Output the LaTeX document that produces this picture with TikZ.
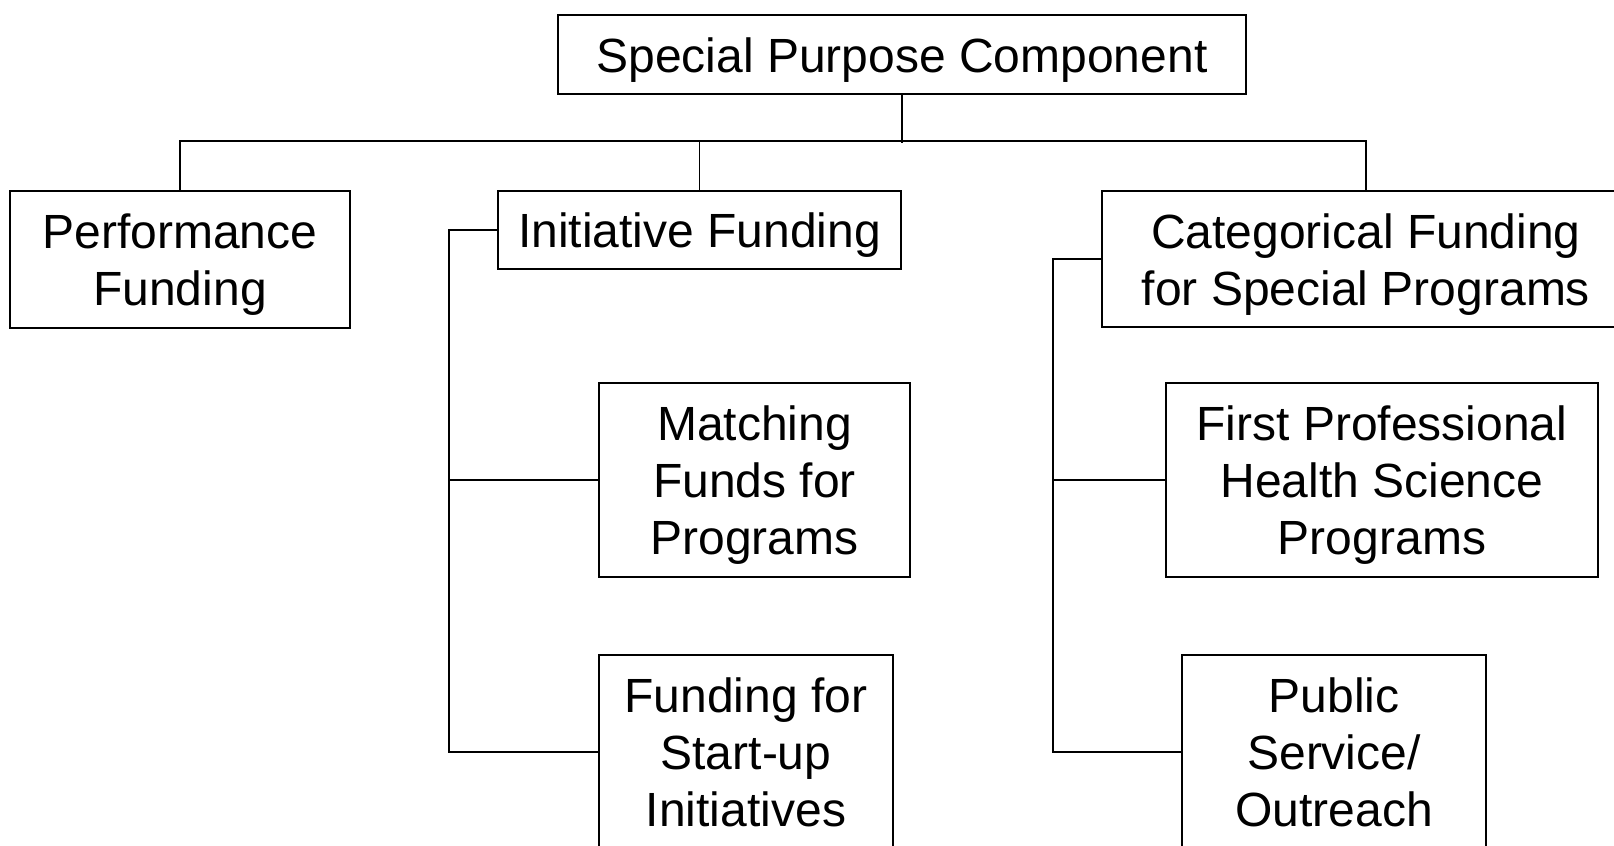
\documentclass[tikz,border=0pt]{standalone}
\usepackage{fontspec}
\setmainfont{Liberation Sans}
\newcommand{\fst}{\rule{0pt}{26.5pt}} % first-row strut, sets the text a bit lower

\begin{document}
\begin{tikzpicture}[x=0.5pt, y=-0.5pt,
        box/.style={draw, line width=1pt, inner sep=0pt, align=center, font=\fontsize{24}{28.5}\selectfont},
        link/.style={line width=0.65pt}]
        \useasboundingbox (0,0) rectangle (1614,846);
        \clip (0,0) rectangle (1614,846);
        % Blocks
        \node[box, minimum width=344pt, minimum height=39.5pt] (block1) at (902,54.5) {%
            \begin{tabular}{c}
                \fst Special Purpose Component
            \end{tabular}%
        };
        \node[box, minimum width=170pt, minimum height=68.5pt] (block2) at (180,259.5) {%
            \begin{tabular}{c}
                \fst Performance \\
                Funding
            \end{tabular}%
        };
        \node[box, minimum width=201.5pt, minimum height=39pt] (block3) at (699.5,230) {%
            \begin{tabular}{c}
                \fst Initiative Funding
            \end{tabular}%
        };
        \node[box, minimum width=264pt, minimum height=68pt] (block4) at (1366,259) {%
            \begin{tabular}{c}
                \fst Categorical Funding \\
                for Special Programs
            \end{tabular}%
        };
        \node[box, minimum width=155.5pt, minimum height=97pt] (block5) at (754.5,480) {%
            \begin{tabular}{c}
                \fst Matching \\
                Funds for \\
                Programs
            \end{tabular}%
        };
        \node[box, minimum width=147pt, minimum height=97pt] (block6) at (746,752) {%
            \begin{tabular}{c}
                \fst Funding for \\
                Start-up \\
                Initiatives
            \end{tabular}%
        };
        \node[box, minimum width=216pt, minimum height=97pt] (block7) at (1382,480) {%
            \begin{tabular}{c}
                \fst First Professional \\
                Health Science \\
                Programs
            \end{tabular}%
        };
        \node[box, minimum width=152pt, minimum height=97pt] (block8) at (1334,752) {%
            \begin{tabular}{c}
                \fst Public \\
                Service/ \\
                Outreach
            \end{tabular}%
        };

        % Lines
        \draw[link] (block1.south) -- ++(0,48);
        \draw[link] (block2.north) -- ++(0,-49) -| (block4.north);
        \draw[link] (block3.north) -- ++(0,-49);
        \draw[link] (block3.west) -- ++(-48,0) |- (block6.west);
        \draw[link] (block5.west) -- ++(-149,0);
        \draw[link] (block4.west) -- ++(-48,0) |- (block8.west);
        \draw[link] (block7.west) -- ++(-112,0);

    \end{tikzpicture}
\end{document}
